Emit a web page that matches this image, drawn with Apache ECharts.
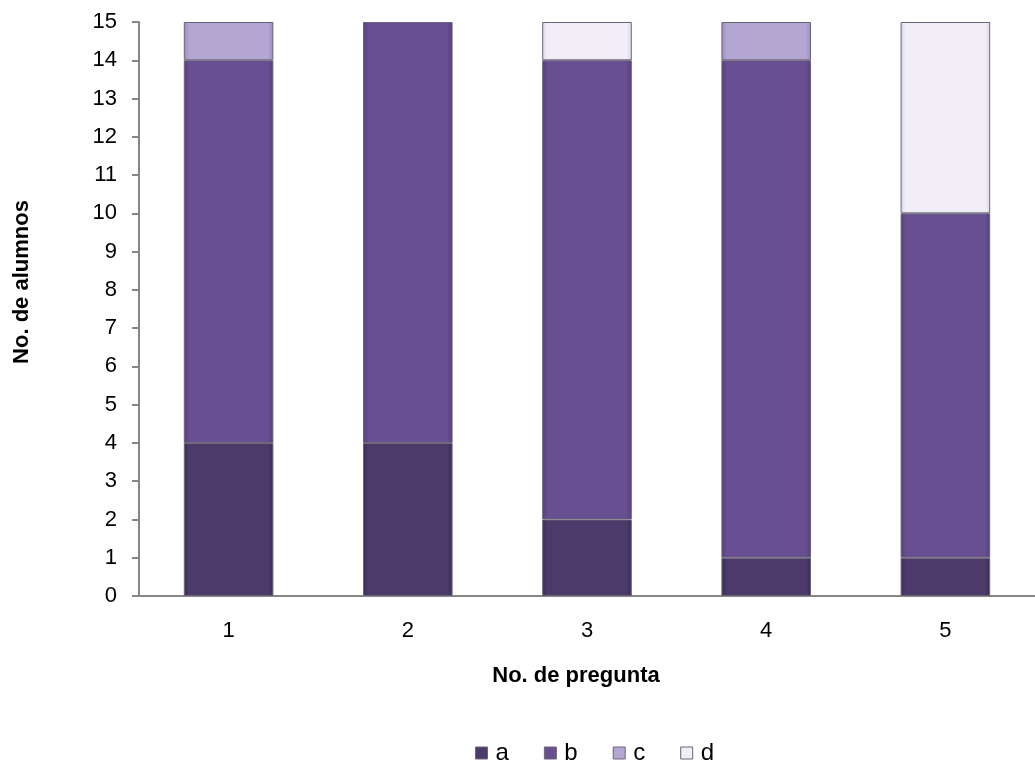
<!DOCTYPE html>
<html>
<head>
<meta charset="utf-8">
<script src="https://cdn.jsdelivr.net/npm/echarts@6/dist/echarts.min.js"></script>
<style>
  html, body { margin: 0; padding: 0; background: #ffffff; }
  #chart { width: 1035px; height: 762px; }
</style>
</head>
<body>
<div id="chart"></div>
<script>
// Answers per question (stacked counts of students)
const preguntas = ['1', '2', '3', '4', '5'];
const serieA = [4, 4, 2, 1, 1];
const serieB = [10, 11, 12, 13, 9];
const serieC = [1, 0, 0, 1, 0];
const serieD = [0, 0, 1, 0, 5];
const nombres = ['a', 'b', 'c', 'd'];
const yTicks = [0, 15, 1];

const colores = {
  a: ['#3d2c55', '#4c3a6a', '#3d2c55'],
  b: ['#54407a', '#674f92', '#54407a'],
  c: ['#9a8bbd', '#b3a6d2', '#9a8bbd'],
  d: ['#dcd6ea', '#f1eef8', '#dcd6ea']
};

function relleno(c) {
  return new echarts.graphic.LinearGradient(0, 0, 1, 0, [
    { offset: 0, color: c[0] },
    { offset: 0.06, color: c[1] },
    { offset: 0.94, color: c[1] },
    { offset: 1, color: c[2] }
  ]);
}

const valores = { a: serieA, b: serieB, c: serieC, d: serieD };

const series = nombres.map(n => ({
  name: n,
  type: 'bar',
  stack: 'total',
  barWidth: '50%',
  data: valores[n].map(v => v === 0 ? null : v),
  itemStyle: {
    color: relleno(colores[n]),
    borderColor: '#6b6478',
    borderWidth: 1
  },
  emphasis: { disabled: true }
}));

const fuente = 'Liberation Sans, Arial, sans-serif';

const chart = echarts.init(document.getElementById('chart'), null, { renderer: 'canvas' });
chart.setOption({
  animation: false,
  backgroundColor: '#ffffff',
  textStyle: { fontFamily: fuente },
  grid: { left: 139, top: 22, width: 907, height: 574, containLabel: false },
  legend: {
    data: nombres.map(n => ({ name: n, itemStyle: { color: colores[n][1], borderColor: '#6b6478', borderWidth: 1 } })),
    left: 470,
    top: 736,
    icon: 'rect',
    itemWidth: 12,
    itemHeight: 12,
    itemGap: 35,
    textStyle: { fontSize: 24, color: '#000', padding: [0, 0, 0, 3] }
  },
  xAxis: {
    type: 'category',
    data: preguntas,
    axisLine: { show: true, lineStyle: { color: '#868686', width: 2 } },
    axisTick: { show: false },
    axisLabel: { fontSize: 22, color: '#000', margin: 24 }
  },
  yAxis: {
    type: 'value',
    min: yTicks[0],
    max: yTicks[1],
    interval: yTicks[2],
    axisLine: { show: true, lineStyle: { color: '#868686', width: 2 } },
    axisTick: { show: true, length: 7, lineStyle: { color: '#868686', width: 2 } },
    axisLabel: { fontSize: 22, color: '#000', margin: 22 },
    splitLine: { show: false }
  },
  graphic: [
    {
      type: 'text',
      x: 576, y: 676,
      style: { text: 'No. de pregunta', font: 'bold 22px ' + fuente, fill: '#000', align: 'center', verticalAlign: 'middle' }
    },
    {
      type: 'text',
      x: 22, y: 282,
      rotation: Math.PI / 2,
      style: { text: 'No. de alumnos', font: 'bold 22px ' + fuente, fill: '#000', align: 'center', verticalAlign: 'middle' }
    }
  ],
  series: series
});
</script>
</body>
</html>
